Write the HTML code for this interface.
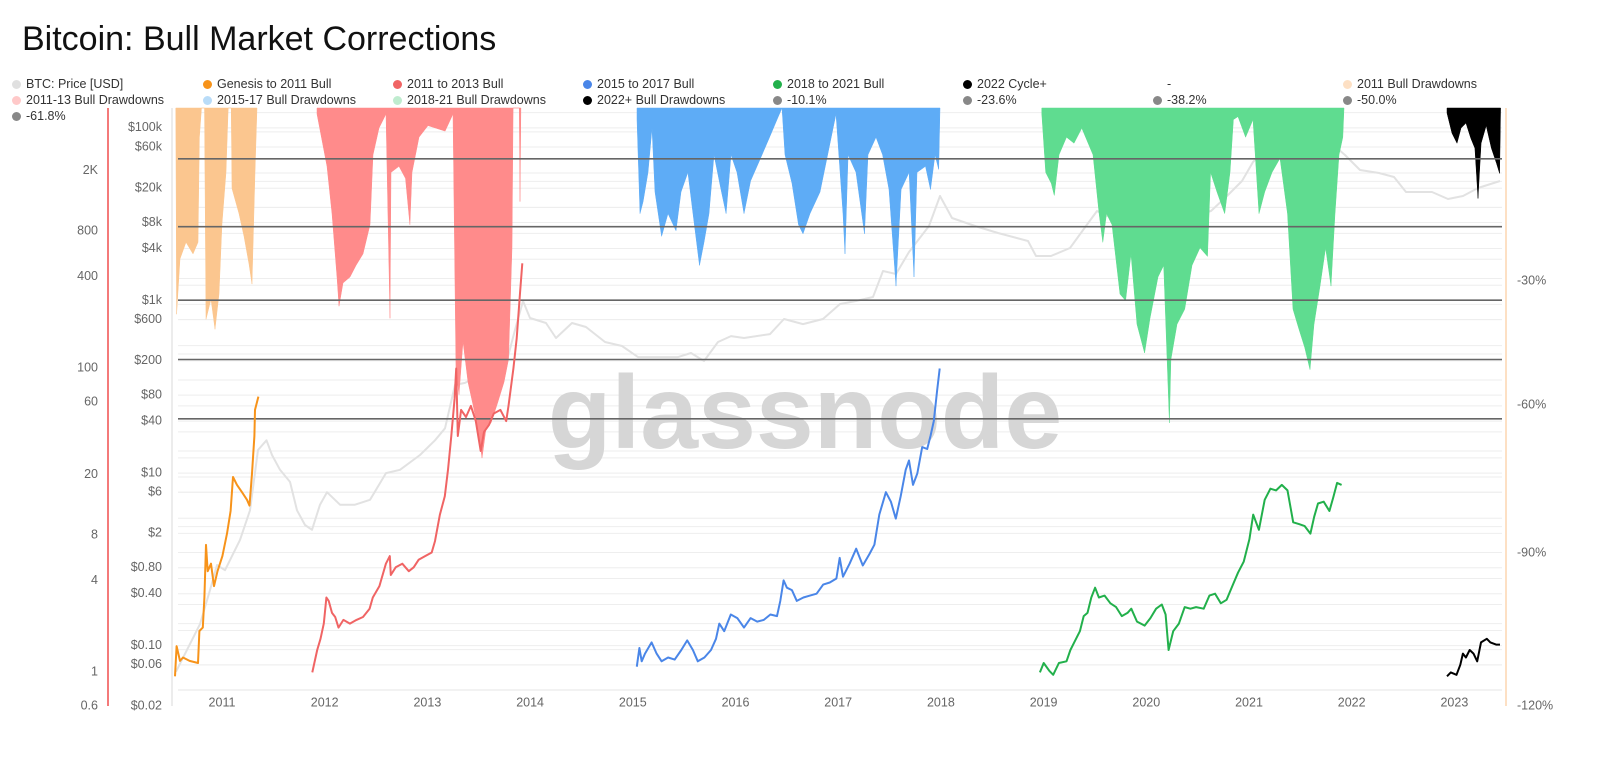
<!DOCTYPE html>
<html><head><meta charset="utf-8">
<style>
body{margin:0;background:#fff;width:1600px;height:768px;overflow:hidden;font-family:"Liberation Sans",sans-serif}
#title{position:absolute;left:22px;top:20px;font-size:34px;color:#111}
.lg{position:absolute;font-size:12.5px;color:#333;white-space:nowrap}
.lg i{display:inline-block;width:9px;height:9px;border-radius:50%;margin-right:5px;vertical-align:-1px}
svg{position:absolute;left:0;top:0}
</style></head><body>
<div id="title">Bitcoin: Bull Market Corrections</div>
<div id="legend"></div>
<svg id="chart" width="1600" height="768"></svg>
<script>
// ---- data ----
const yearTicks=[2011,2012,2013,2014,2015,2016,2017,2018,2019,2020,2021,2022,2023];
const priceTicks=[100000,60000,20000,8000,4000,1000,600,200,80,40,10,6,2,0.8,0.4,0.1,0.06,0.02];
const priceTickLabels=["$100k","$60k","$20k","$8k","$4k","$1k","$600","$200","$80","$40","$10","$6","$2","$0.80","$0.40","$0.10","$0.06","$0.02"];
const outerTicks=[2000,800,400,100,60,20,8,4,1,0.6];
const outerTickLabels=["2K","800","400","100","60","20","8","4","1","0.6"];
const rightTickLabels=["-30%","-60%","-90%","-120%"];
const rightTickPos=[281,405,553,706];
const fibLevels=[10.1,23.6,38.2,50,61.8];

const grayDates=[2010.552,2010.786,2010.883,2010.951,2011.029,2011.175,2011.273,2011.351,2011.433,2011.487,2011.565,2011.662,2011.730,2011.808,2011.876,2011.954,2012.022,2012.149,2012.295,2012.441,2012.597,2012.733,2012.928,2013.074,2013.171,2013.269,2013.366,2013.512,2013.658,2013.756,2013.853,2013.931,2013.999,2014.155,2014.252,2014.408,2014.544,2014.729,2014.895,2015.051,2015.216,2015.440,2015.567,2015.693,2015.830,2015.956,2016.083,2016.336,2016.472,2016.657,2016.852,2017.018,2017.173,2017.339,2017.436,2017.563,2017.689,2017.884,2017.991,2018.108,2018.332,2018.556,2018.848,2018.926,2019.072,2019.257,2019.413,2019.520,2019.744,2019.929,2020.192,2020.377,2020.630,2020.786,2020.932,2021.039,2021.224,2021.409,2021.594,2021.798,2021.935,2022.081,2022.266,2022.412,2022.529,2022.782,2022.938,2023.084,2023.230,2023.444];
const grayValues=[0.05,0.178,0.44,0.86,0.75,1.68,3.7,18.5,24,16.2,10.9,7.9,3.7,2.5,2.2,4.3,6.0,4.3,4.3,4.9,10,10.9,16.2,24,33,105,111,137,126,165,455,986,627,548,367,548,493,330,297,221,221,221,246,199,330,387,367,408,610,533,610,910,986,1097,2198,2028,3648,7296,16256,9038,7296,6054,4886,3274,3274,4056,7296,10890,8110,10890,8110,9038,10890,16256,24212,40274,66840,74300,59980,66840,48540,32520,30000,26980,18070,18070,15000,16256,20090,24212];

const orangeDates=[2010.542,2010.558,2010.591,2010.620,2010.685,2010.766,2010.780,2010.813,2010.829,2010.844,2010.861,2010.893,2010.922,2010.956,2011.004,2011.049,2011.084,2011.107,2011.146,2011.195,2011.243,2011.268,2011.292,2011.315,2011.321,2011.354];
const orangeValues=[0.0442,0.099,0.0666,0.073,0.0666,0.063,0.148,0.162,0.362,1.47,0.73,0.89,0.49,0.73,1.09,1.99,3.64,9.0,7.3,6.0,4.9,4.2,9.9,26.9,54,77];

const redDates=[2011.879,2011.927,2011.959,2011.991,2012.017,2012.039,2012.071,2012.102,2012.134,2012.182,2012.245,2012.310,2012.373,2012.437,2012.468,2012.533,2012.596,2012.634,2012.644,2012.691,2012.756,2012.819,2012.867,2012.914,2012.978,2013.042,2013.074,2013.122,2013.169,2013.201,2013.233,2013.265,2013.280,2013.296,2013.328,2013.376,2013.424,2013.471,2013.519,2013.551,2013.599,2013.647,2013.711,2013.767,2013.790,2013.837,2013.870,2013.902,2013.924];
const redValues=[0.049,0.089,0.12,0.18,0.362,0.33,0.24,0.215,0.162,0.199,0.18,0.199,0.215,0.268,0.362,0.49,0.89,1.09,0.66,0.81,0.89,0.73,0.81,0.99,1.09,1.2,1.63,3.3,5.4,10.9,26.9,73,163,26.9,54,44.7,60,40,18,30,36,49,54,40,60,163,365,1210,2700];

const blueDates=[2015.039,2015.064,2015.087,2015.119,2015.183,2015.232,2015.280,2015.344,2015.408,2015.472,2015.530,2015.585,2015.633,2015.697,2015.761,2015.810,2015.842,2015.890,2015.954,2016.018,2016.083,2016.147,2016.211,2016.276,2016.340,2016.404,2016.436,2016.468,2016.500,2016.549,2016.597,2016.661,2016.725,2016.790,2016.854,2016.918,2016.982,2017.015,2017.047,2017.111,2017.175,2017.240,2017.304,2017.352,2017.400,2017.464,2017.513,2017.561,2017.609,2017.657,2017.689,2017.728,2017.770,2017.818,2017.867,2017.899,2017.931,2017.963,2017.988];
const blueValues=[0.057,0.094,0.066,0.081,0.109,0.081,0.066,0.073,0.069,0.089,0.115,0.089,0.066,0.073,0.089,0.12,0.18,0.147,0.23,0.209,0.162,0.209,0.19,0.199,0.23,0.22,0.33,0.57,0.47,0.44,0.33,0.362,0.38,0.40,0.51,0.54,0.60,1.04,0.63,0.89,1.33,0.85,1.15,1.48,3.3,6.0,4.66,2.97,5.4,10.9,14.0,7.3,9.9,20,19,26.9,40,90,163];

const greenDates=[2018.964,2019.001,2019.056,2019.093,2019.149,2019.223,2019.261,2019.298,2019.353,2019.390,2019.427,2019.464,2019.501,2019.538,2019.594,2019.650,2019.706,2019.761,2019.817,2019.854,2019.909,2019.983,2020.040,2020.095,2020.151,2020.188,2020.217,2020.262,2020.317,2020.374,2020.429,2020.485,2020.559,2020.614,2020.670,2020.725,2020.782,2020.837,2020.893,2020.948,2021.004,2021.041,2021.096,2021.153,2021.208,2021.264,2021.319,2021.375,2021.430,2021.487,2021.542,2021.598,2021.635,2021.672,2021.727,2021.783,2021.820,2021.858,2021.902];
const greenValues=[0.049,0.063,0.051,0.046,0.063,0.066,0.089,0.109,0.147,0.22,0.24,0.362,0.47,0.362,0.38,0.31,0.28,0.22,0.24,0.268,0.19,0.171,0.209,0.268,0.30,0.23,0.089,0.147,0.18,0.28,0.268,0.28,0.268,0.38,0.40,0.31,0.34,0.49,0.70,0.94,1.71,3.3,2.2,4.9,6.6,6.3,7.3,6.3,2.69,2.56,2.43,1.99,3.12,4.44,4.66,3.64,5.2,7.7,7.3];

const blackDates=[2022.928,2022.965,2023.020,2023.057,2023.083,2023.112,2023.149,2023.186,2023.222,2023.259,2023.315,2023.351,2023.406,2023.444];
const blackValues=[0.0442,0.049,0.046,0.060,0.081,0.073,0.089,0.081,0.066,0.109,0.12,0.109,0.103,0.103];

const ddOrangeDates=[2010.550,2010.558,2010.591,2010.649,2010.718,2010.766,2010.780,2010.800,2010.830,2010.844,2010.893,2010.932,2010.971,2011.000,2011.039,2011.060,2011.090,2011.097,2011.166,2011.214,2011.263,2011.292,2011.321,2011.341];
const ddOrangeValues=[0,41,30,26.7,29,26.7,5.8,0,0,42,38,44,37,23,12.8,0,0,16,21,25.5,31,35,12.8,0];

const ddRedDates=[2011.925,2012.022,2012.071,2012.120,2012.139,2012.178,2012.246,2012.305,2012.373,2012.441,2012.470,2012.529,2012.597,2012.636,2012.646,2012.723,2012.787,2012.830,2012.850,2012.918,2013.006,2013.172,2013.249,2013.278,2013.308,2013.347,2013.395,2013.444,2013.502,2013.532,2013.571,2013.619,2013.678,2013.746,2013.790,2013.824,2013.834,2013.895,2013.902,2013.910];
const ddRedValues=[1.2,11.6,21,33.6,39.4,34.8,33.6,31.3,29,23.2,9.3,4,1.2,41.8,12.8,11.6,14,23.2,12.8,5.8,3.5,4.6,1.2,52,57,46.4,54.5,59,65,69.6,63.8,62.6,59,54.5,50,27.8,0,0,18.6,0];

const ddBlueDates=[2015.041,2015.070,2015.100,2015.148,2015.187,2015.216,2015.280,2015.343,2015.421,2015.469,2015.537,2015.586,2015.649,2015.693,2015.742,2015.791,2015.859,2015.908,2015.956,2016.015,2016.083,2016.147,2016.243,2016.336,2016.404,2016.453,2016.482,2016.550,2016.613,2016.657,2016.725,2016.823,2016.920,2016.979,2017.047,2017.066,2017.096,2017.173,2017.256,2017.290,2017.368,2017.432,2017.495,2017.563,2017.612,2017.690,2017.738,2017.767,2017.850,2017.899,2017.943,2017.979,2017.991];
const ddBlueValues=[2.3,21,18.6,12.8,4,16.7,25.5,21,24.4,16.7,12.8,21,31.3,26.7,21,9.3,16.2,21,9.3,12.8,21,14.5,10,5.6,2.3,0,9.3,15,23.2,25,21,16.7,7,1.2,21,29,9.3,12.8,25,9.3,5.8,9.3,16.2,35.4,16.2,12.8,33.6,12.8,11.6,16.2,9.3,12.2,0];

const ddGreenDates=[2018.982,2019.020,2019.075,2019.104,2019.150,2019.223,2019.296,2019.372,2019.481,2019.540,2019.576,2019.612,2019.666,2019.744,2019.798,2019.851,2019.909,2019.983,2020.036,2020.114,2020.169,2020.225,2020.240,2020.299,2020.374,2020.445,2020.523,2020.596,2020.626,2020.688,2020.763,2020.815,2020.848,2020.893,2020.967,2021.039,2021.097,2021.153,2021.224,2021.302,2021.375,2021.428,2021.487,2021.542,2021.594,2021.633,2021.691,2021.746,2021.798,2021.837,2021.876,2021.913,2021.925];
const ddGreenValues=[1.2,12.8,15,17.4,9.3,5.8,7,4,9.3,21,26.7,21,23.2,37,38.3,29,43,48.7,41.8,33.6,31.3,62.6,50,43,40,31.3,27.8,29.5,12.8,16.7,21,12.8,2.3,1.7,5.8,2.3,21,16.7,12.8,10,21,40,44,47.6,52,43,35.4,27.8,35.4,21,9.3,5.8,0];

const ddBlackDates=[2022.928,2022.977,2023.025,2023.064,2023.113,2023.160,2023.200,2023.230,2023.260,2023.310,2023.360,2023.410,2023.440,2023.450];
const ddBlackValues=[1,5,7,4,3,6,8,18,7,3.5,8,11,13,0];

// ---- scales ----
const PL=172,PR=1502,PT=108,PB=690;
function xs(yr){return 222+(yr-2011)*102.7;}
function yp(v){return 706-86.3*Math.log10(v/0.02);}
function yo(v){return 706-152*Math.log10(v/0.6);}
function yd(p){return PT+p*5.03;}

const svg=document.getElementById('chart');
const NS='http://www.w3.org/2000/svg';
function mk(tag,attrs,parent){const e=document.createElementNS(NS,tag);for(const k in attrs)e.setAttribute(k,attrs[k]);(parent||svg).appendChild(e);return e;}

// faint grid
const grid=mk('g',{});


priceTicks.forEach(v=>{for(const m of [1,1.5,3]){const y=yp(v*m);if(y>PT&&y<PB)mk('line',{x1:PL+6,x2:PR,y1:y,y2:y,stroke:'#eeeeee','stroke-width':1},grid);}});

// watermark
const wm=mk('text',{x:805,y:448,'font-size':104,'text-anchor':'middle',fill:'#d6d6d6','font-family':'Liberation Sans,sans-serif','font-weight':'bold'});
wm.textContent='glassnode';



// gray price
function line(dates,vals,color,w,name){
  let d='';dates.forEach((t,i)=>{d+=(i?'L':'M')+xs(t).toFixed(1)+' '+yp(vals[i]).toFixed(1);});
  const p=mk('path',{d:d,fill:'none',stroke:color,'stroke-width':w,'stroke-linejoin':'round'});
  
  
}
line(grayDates,grayValues,'#e2e2e2',2,'btc-price-line');

// drawdowns
function dd(dates,vals,color,name){
  let d='M'+xs(dates[0]).toFixed(1)+' '+PT;
  dates.forEach((t,i)=>{d+='L'+xs(t).toFixed(1)+' '+yd(vals[i]).toFixed(1);});
  d+='L'+xs(dates[dates.length-1]).toFixed(1)+' '+PT+'Z';
  const p=mk('path',{d:d,fill:color,stroke:color,'stroke-width':0.5});
  
  
}
dd(ddOrangeDates,ddOrangeValues,'#fbc68f','drawdowns-2011');
dd(ddRedDates,ddRedValues,'#ff8b8b','drawdowns-2011-13');
dd(ddBlueDates,ddBlueValues,'#5eacf6','drawdowns-2015-17');
dd(ddGreenDates,ddGreenValues,'#5fdc90','drawdowns-2018-21');
dd(ddBlackDates,ddBlackValues,'#000000','drawdowns-2022');

// fib lines
fibLevels.forEach(f=>{const y=yd(f);const l=mk('line',{x1:PL+6,x2:PR,y1:y,y2:y,stroke:'#666','stroke-width':1.6});
  
  });

// cycle lines
line(orangeDates,orangeValues,'#f7931a',2,'genesis-2011-line');
line(redDates,redValues,'#f06464',2,'2011-2013-line');
line(blueDates,blueValues,'#4a86e8',2,'2015-2017-line');
line(greenDates,greenValues,'#22b04b',2,'2018-2021-line');
line(blackDates,blackValues,'#000',2,'2022-cycle-line');

// axes
const ax1=mk('line',{x1:108,x2:108,y1:PT,y2:706,stroke:'#f47a7a','stroke-width':2});


const ax2=mk('line',{x1:PL,x2:PL,y1:PT,y2:706,stroke:'#e6e6e6','stroke-width':1.5});


const ax3=mk('line',{x1:1506,x2:1506,y1:PT,y2:706,stroke:'#fde0c4','stroke-width':2});


const ax4=mk('line',{x1:PL+6,x2:PR,y1:PB,y2:PB,stroke:'#e6e6e6','stroke-width':1});



function txt(x,y,s,anchor,name){const t=mk('text',{x:x,y:y,'font-size':12.5,fill:'#666','text-anchor':anchor,'dominant-baseline':'middle','font-family':'Liberation Sans,sans-serif'});t.textContent=s;
  
  }
priceTicks.forEach((v,i)=>txt(162,yp(v),priceTickLabels[i],'end','price-tick'));
outerTicks.forEach((v,i)=>txt(98,yo(v),outerTickLabels[i],'end','outer-tick'));
rightTickLabels.forEach((s,i)=>txt(1517,rightTickPos[i],s,'start','right-tick'));
yearTicks.forEach(y=>txt(xs(y),703,String(y),'middle','year-tick'));

// legend
const legendItems=[
 [12,85,'#e0e0e0','BTC: Price [USD]'],[203,85,'#f7931a','Genesis to 2011 Bull'],[393,85,'#f06464','2011 to 2013 Bull'],[583,85,'#4a86e8','2015 to 2017 Bull'],[773,85,'#22b04b','2018 to 2021 Bull'],[963,85,'#000','2022 Cycle+'],[1153,85,null,'-'],[1343,85,'#fde0c4','2011 Bull Drawdowns'],
 [12,101,'#ffc9c9','2011-13 Bull Drawdowns'],[203,101,'#b9dcf8','2015-17 Bull Drawdowns'],[393,101,'#bfeccf','2018-21 Bull Drawdowns'],[583,101,'#000','2022+ Bull Drawdowns'],[773,101,'#888','-10.1%'],[963,101,'#888','-23.6%'],[1153,101,'#888','-38.2%'],[1343,101,'#888','-50.0%'],
 [12,117,'#888','-61.8%'],[203,117,null,'-']];
const lg=document.getElementById('legend');
legendItems.forEach(it=>{const d=document.createElement('div');d.className='lg';d.style.left=it[0]+'px';d.style.top=(it[1]-8)+'px';
 d.innerHTML=(it[2]?'<i style="background:'+it[2]+'"></i>':'<i style="background:transparent"></i>')+it[3];
 
 
 lg.appendChild(d);});
</script>
</body></html>
